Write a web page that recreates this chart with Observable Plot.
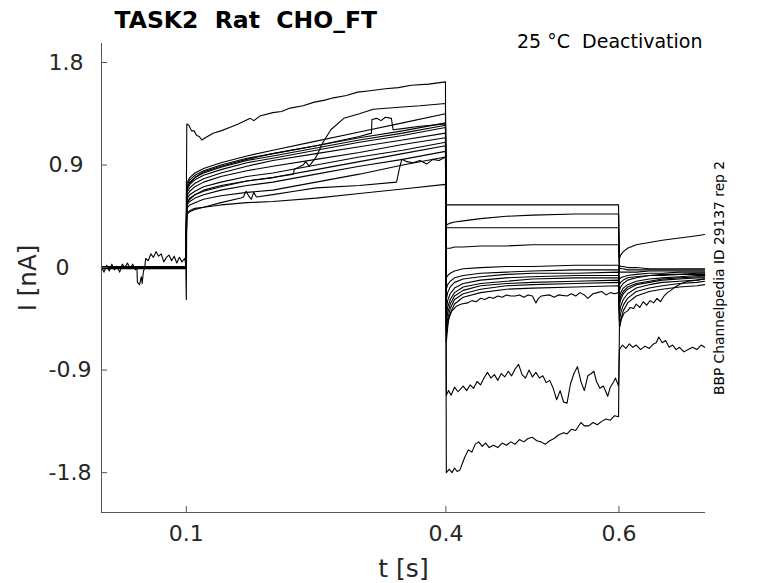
<!DOCTYPE html>
<html><head><meta charset="utf-8">
<script src="https://cdn.jsdelivr.net/npm/d3@7"></script>
<script src="https://cdn.jsdelivr.net/npm/@observablehq/plot@0.6"></script>
<style>body{margin:0;background:#fff;} #chart svg{display:block;}</style>
</head><body><div id="chart"></div>
<script>
// ---- text ----
const titleText = "TASK2 \u00a0Rat \u00a0CHO_FT";
const conditionText = "25 °C \u00a0Deactivation";
const sourceNote = "BBP Channelpedia ID 29137 rep 2";
const xLabel = "t [s]";
const yLabel = "I [nA]";

// ---- axes ----
const xDomain = [0.002, 0.7];
const yDomain = [-2.15, 1.967];
const xTicks = [0.1, 0.4, 0.6];
const xTickLabels = ["0.1", "0.4", "0.6"];
const yTicks = [1.8, 0.9, 0, -0.9, -1.8];
const yTickLabels = ["1.8", "0.9", "\u00a00", "-0.9", "-1.8"];

// ---- holding segment (t < 0.1) ----
const tBaseFlat = [0.002, 0.0995];
const baseLevels = [0, 0, 0.005, 0, -0.005, 0.01, 0, -0.01, 0.005, 0, -0.005, 0.01, 0, 0.005, -0.005];
const baseNoisyA = [[0.002,0.0],[0.005,-0.04],[0.008,0.02],[0.011,-0.03],[0.014,0.03],[0.017,-0.02],[0.02,0.01],[0.023,-0.04],[0.026,0.03],[0.029,0.0],[0.032,0.04],[0.035,-0.01],[0.038,0.03],[0.041,-0.02],[0.043,-0.01],[0.0435,-0.13],[0.046,-0.15],[0.048,-0.08],[0.049,-0.14],[0.0505,-0.03],[0.053,0.01],[0.058,-0.01],[0.065,0.01],[0.075,0.0],[0.085,0.01],[0.0995,0.0]];
const baseNoisyB = [[0.002,0.01],[0.02,0.0],[0.04,0.01],[0.052,0.0],[0.053,0.08],[0.056,0.06],[0.059,0.12],[0.062,0.09],[0.065,0.14],[0.068,0.1],[0.071,0.12],[0.074,0.05],[0.077,0.09],[0.08,0.11],[0.083,0.06],[0.086,0.1],[0.089,0.04],[0.092,0.09],[0.095,0.05],[0.098,0.08],[0.0995,0.03]];
const baseSpike = [[0.002,0.0],[0.0995,0.0],[0.1,-0.28]];

// ---- activation segment (0.1 – 0.4) ----
const tAct = [0.1006, 0.104, 0.11, 0.12, 0.14, 0.17, 0.2, 0.25, 0.3, 0.35, 0.3995];
const actTop = [[0.1006,1.26],[0.103,1.25],[0.106,1.2],[0.109,1.2],[0.112,1.16],[0.115,1.15],[0.118,1.12],[0.122,1.14],[0.131,1.18],[0.14,1.2],[0.15,1.23],[0.16,1.26],[0.174,1.31],[0.178,1.29],[0.185,1.33],[0.2,1.36],[0.21,1.37],[0.22,1.4],[0.235,1.42],[0.247,1.45],[0.26,1.47],[0.27,1.49],[0.285,1.51],[0.298,1.54],[0.31,1.55],[0.33,1.57],[0.345,1.58],[0.36,1.6],[0.38,1.61],[0.3995,1.63]];
const actJump = [[0.1006,0.56],[0.104,0.6],[0.11,0.64],[0.12,0.68],[0.14,0.72],[0.17,0.76],[0.2,0.79],[0.224,0.82],[0.2245,0.86],[0.235,0.9],[0.238,0.93],[0.242,0.89],[0.25,0.97],[0.258,1.1],[0.267,1.21],[0.282,1.31],[0.3,1.35],[0.316,1.39],[0.35,1.41],[0.37,1.42],[0.3995,1.44]];
const actRect = [[0.1006,0.7],[0.104,0.74],[0.11,0.79],[0.12,0.84],[0.14,0.89],[0.17,0.95],[0.2,1.0],[0.25,1.07],[0.3,1.15],[0.314,1.18],[0.3145,1.3],[0.32,1.31],[0.325,1.29],[0.33,1.32],[0.337,1.31],[0.339,1.21],[0.35,1.22],[0.37,1.24],[0.3995,1.26]];
const actBumpJump = [[0.1006,0.47],[0.104,0.49],[0.11,0.51],[0.12,0.53],[0.14,0.57],[0.163,0.61],[0.166,0.62],[0.169,0.67],[0.172,0.63],[0.175,0.6],[0.178,0.66],[0.181,0.62],[0.2,0.64],[0.225,0.67],[0.25,0.7],[0.3,0.72],[0.343,0.75],[0.346,0.86],[0.349,0.95],[0.355,0.93],[0.362,0.92],[0.37,0.94],[0.378,0.91],[0.385,0.95],[0.392,0.94],[0.3995,0.97]];
const actSmooth = [
  [0.74,0.79,0.83,0.87,0.92,0.98,1.03,1.11,1.19,1.27,1.35],
  [0.72,0.77,0.81,0.85,0.9,0.96,1.0,1.07,1.14,1.2,1.27],
  [0.7,0.75,0.79,0.83,0.88,0.94,0.98,1.05,1.12,1.18,1.25],
  [0.68,0.73,0.77,0.81,0.86,0.92,0.96,1.03,1.1,1.16,1.23],
  [0.66,0.7,0.74,0.78,0.83,0.89,0.94,1.0,1.06,1.12,1.18],
  [0.63,0.67,0.71,0.75,0.8,0.85,0.89,0.95,1.01,1.08,1.14],
  [0.6,0.64,0.67,0.71,0.75,0.8,0.83,0.9,0.97,1.03,1.1],
  [0.57,0.61,0.64,0.67,0.71,0.76,0.79,0.86,0.93,1.0,1.07],
  [0.55,0.58,0.61,0.64,0.68,0.72,0.75,0.82,0.89,0.95,1.02],
  [0.52,0.55,0.57,0.6,0.63,0.66,0.68,0.75,0.82,0.9,0.97],
  [0.48,0.5,0.52,0.53,0.55,0.57,0.58,0.61,0.65,0.69,0.73]
];

// ---- deactivation segment (0.4 – 0.6) ----
const tDeact = [0.4005, 0.402, 0.405, 0.41, 0.42, 0.44, 0.47, 0.5, 0.55, 0.5995];
const deactSmooth = [
  [0.55,0.55,0.55,0.55,0.55,0.55,0.55,0.55,0.55,0.55],
  [0.37,0.38,0.39,0.4,0.41,0.43,0.45,0.46,0.47,0.47],
  [0.35,0.35,0.35,0.35,0.35,0.35,0.35,0.35,0.35,0.35],
  [0.17,0.17,0.17,0.18,0.18,0.19,0.19,0.2,0.2,0.2],
  [-0.09,-0.07,-0.05,-0.03,-0.01,0.0,0.01,0.01,0.02,0.02],
  [-0.19,-0.15,-0.12,-0.09,-0.07,-0.05,-0.04,-0.03,-0.02,-0.02],
  [-0.28,-0.22,-0.17,-0.13,-0.1,-0.08,-0.06,-0.05,-0.05,-0.04],
  [-0.37,-0.29,-0.23,-0.18,-0.14,-0.11,-0.09,-0.08,-0.07,-0.07],
  [-0.43,-0.35,-0.28,-0.22,-0.17,-0.14,-0.12,-0.1,-0.09,-0.09],
  [-0.48,-0.4,-0.32,-0.25,-0.2,-0.16,-0.14,-0.13,-0.12,-0.11],
  [-0.54,-0.45,-0.36,-0.28,-0.23,-0.19,-0.16,-0.15,-0.14,-0.13],
  [-0.6,-0.5,-0.4,-0.32,-0.26,-0.22,-0.19,-0.18,-0.17,-0.16]
];
const deactNoisyHigh = [[0.4005,-0.65],[0.403,-0.45],[0.407,-0.38],[0.412,-0.34],[0.418,-0.32],[0.425,-0.31],[0.43,-0.29],[0.435,-0.3],[0.44,-0.27],[0.445,-0.28],[0.45,-0.26],[0.455,-0.27],[0.46,-0.25],[0.465,-0.26],[0.47,-0.24],[0.475,-0.25],[0.48,-0.25],[0.485,-0.24],[0.49,-0.26],[0.495,-0.24],[0.5,-0.25],[0.504,-0.31],[0.507,-0.27],[0.51,-0.25],[0.52,-0.24],[0.525,-0.26],[0.53,-0.24],[0.54,-0.25],[0.545,-0.23],[0.55,-0.25],[0.555,-0.22],[0.56,-0.24],[0.564,-0.27],[0.57,-0.23],[0.575,-0.22],[0.58,-0.21],[0.585,-0.24],[0.59,-0.22],[0.595,-0.23],[0.5995,-0.22]];
const deactNoisyMid = [[0.4005,-1.12],[0.403,-1.08],[0.406,-1.12],[0.41,-1.05],[0.414,-1.09],[0.42,-1.04],[0.424,-1.08],[0.428,-1.03],[0.432,-1.06],[0.436,-1.0],[0.44,-1.03],[0.444,-0.97],[0.448,-0.92],[0.452,-0.97],[0.456,-0.94],[0.46,-0.99],[0.464,-0.93],[0.468,-0.96],[0.472,-0.91],[0.476,-0.95],[0.48,-0.89],[0.484,-0.85],[0.488,-0.94],[0.492,-0.97],[0.496,-0.9],[0.5,-0.96],[0.504,-0.92],[0.508,-0.97],[0.512,-0.95],[0.516,-1.01],[0.52,-0.99],[0.524,-1.06],[0.528,-1.16],[0.532,-1.08],[0.536,-1.18],[0.54,-1.19],[0.544,-1.02],[0.548,-0.93],[0.552,-0.87],[0.556,-1.0],[0.56,-1.08],[0.564,-0.95],[0.568,-0.93],[0.571,-0.91],[0.574,-1.0],[0.578,-1.06],[0.582,-1.04],[0.587,-1.13],[0.59,-1.05],[0.594,-1.0],[0.596,-0.97],[0.5995,-1.04]];
const deactNoisyLow = [[0.4005,-1.8],[0.404,-1.77],[0.407,-1.8],[0.41,-1.76],[0.413,-1.79],[0.416,-1.78],[0.419,-1.72],[0.422,-1.66],[0.426,-1.6],[0.43,-1.62],[0.434,-1.55],[0.438,-1.53],[0.442,-1.57],[0.446,-1.54],[0.45,-1.58],[0.455,-1.56],[0.46,-1.58],[0.465,-1.54],[0.47,-1.56],[0.475,-1.53],[0.48,-1.55],[0.485,-1.51],[0.49,-1.53],[0.495,-1.5],[0.5,-1.49],[0.505,-1.52],[0.51,-1.53],[0.515,-1.55],[0.52,-1.52],[0.525,-1.5],[0.53,-1.47],[0.536,-1.45],[0.54,-1.46],[0.545,-1.42],[0.55,-1.43],[0.556,-1.36],[0.56,-1.39],[0.565,-1.39],[0.57,-1.36],[0.575,-1.38],[0.58,-1.35],[0.585,-1.33],[0.59,-1.34],[0.595,-1.3],[0.5995,-1.31]];

// ---- tail segment (0.6 – 0.7) ----
const tTail = [0.6005, 0.602, 0.605, 0.61, 0.62, 0.635, 0.65, 0.67, 0.69, 0.699];
const tailSmooth = [
  [-0.54,-0.46,-0.38,-0.31,-0.25,-0.21,-0.19,-0.17,-0.16,-0.15],
  [0.08,0.11,0.14,0.17,0.2,0.22,0.24,0.26,0.28,0.29],
  [0.0,-0.01,-0.01,-0.02,-0.02,-0.02,-0.02,-0.02,-0.02,-0.02],
  [-0.04,-0.04,-0.04,-0.04,-0.04,-0.03,-0.03,-0.03,-0.03,-0.03],
  [0.02,0.01,0.01,0.0,0.0,-0.01,-0.01,-0.01,-0.01,-0.01],
  [-0.1,-0.09,-0.08,-0.07,-0.06,-0.05,-0.05,-0.04,-0.04,-0.04],
  [-0.2,-0.17,-0.14,-0.11,-0.09,-0.07,-0.06,-0.06,-0.05,-0.05],
  [-0.15,-0.13,-0.11,-0.09,-0.08,-0.07,-0.07,-0.06,-0.06,-0.06],
  [-0.26,-0.22,-0.18,-0.15,-0.12,-0.1,-0.09,-0.08,-0.07,-0.07],
  [-0.33,-0.28,-0.23,-0.19,-0.15,-0.13,-0.11,-0.1,-0.09,-0.09],
  [-0.3,-0.25,-0.21,-0.17,-0.14,-0.12,-0.1,-0.09,-0.08,-0.08],
  [-0.4,-0.34,-0.28,-0.23,-0.18,-0.15,-0.13,-0.12,-0.11,-0.1],
  [-0.47,-0.4,-0.33,-0.27,-0.21,-0.18,-0.16,-0.14,-0.13,-0.12]
];
const tailNoisyMid = [[0.6005,-0.52],[0.603,-0.45],[0.606,-0.4],[0.61,-0.38],[0.613,-0.35],[0.617,-0.36],[0.62,-0.32],[0.624,-0.35],[0.628,-0.3],[0.632,-0.33],[0.636,-0.29],[0.64,-0.31],[0.644,-0.27],[0.648,-0.3],[0.652,-0.25],[0.656,-0.22],[0.66,-0.2],[0.665,-0.17],[0.672,-0.14],[0.68,-0.12],[0.69,-0.11],[0.699,-0.1]];
const tailNoisyLow = [[0.6005,-0.72],[0.604,-0.68],[0.608,-0.71],[0.612,-0.67],[0.616,-0.7],[0.62,-0.68],[0.625,-0.72],[0.63,-0.69],[0.635,-0.71],[0.64,-0.67],[0.643,-0.66],[0.646,-0.61],[0.65,-0.66],[0.654,-0.64],[0.658,-0.7],[0.662,-0.68],[0.666,-0.72],[0.67,-0.7],[0.675,-0.74],[0.68,-0.72],[0.685,-0.7],[0.69,-0.72],[0.695,-0.68],[0.699,-0.7]];

// ---- assemble traces ----
const pairs = (grid, vals) => vals.map((v, j) => [grid[j], v]);
const baseSegs = baseLevels.map(l => pairs(tBaseFlat, [l, l]));
baseSegs[0] = baseNoisyA; baseSegs[1] = baseSpike; baseSegs[3] = baseNoisyB;
const actSegs = [actTop, actJump, actRect, actBumpJump, ...actSmooth.map(v => pairs(tAct, v))];
const deactSegs = [deactNoisyMid, deactNoisyLow, pairs(tDeact, deactSmooth[0]), deactNoisyHigh,
  ...deactSmooth.slice(1).map(v => pairs(tDeact, v))];
const tailSegs = [tailNoisyLow, pairs(tTail, tailSmooth[0]), pairs(tTail, tailSmooth[1]), tailNoisyMid,
  ...tailSmooth.slice(2).map(v => pairs(tTail, v))];
const rows = [];
for (let i = 0; i < actSegs.length; i++) {
  for (const [t, I] of [...baseSegs[i], ...actSegs[i], ...deactSegs[i], ...tailSegs[i]]) rows.push({trace: i, t, I});
}

const axisColor = "#555";
const textColor = "#262626";
const chart = Plot.plot({
  width: 778, height: 583,
  marginLeft: 101, marginRight: 73, marginTop: 43, marginBottom: 71,
  style: {fontFamily: "DejaVu Sans", background: "white", color: textColor},
  x: {domain: xDomain},
  y: {domain: yDomain},
  marks: [
    Plot.line(rows, {x: "t", y: "I", z: "trace", stroke: "black", strokeWidth: 1.1}),
    Plot.ruleX([xDomain[0]], {stroke: axisColor}),
    Plot.ruleY([yDomain[0]], {stroke: axisColor}),
    Plot.axisY(yTicks, {tickSize: 6, dx: 6, stroke: axisColor, tickFormat: () => "", label: null}),
    Plot.axisX(xTicks, {tickSize: 6, dy: -6, stroke: axisColor, tickFormat: () => "", label: null}),
    Plot.axisY(yTicks, {tickSize: 0, tickPadding: 53, textAnchor: "start", fontSize: 22, fill: textColor,
      tickFormat: d => yTickLabels[yTicks.indexOf(d)], label: null}),
    Plot.axisX(xTicks, {tickSize: 0, tickPadding: 13, fontSize: 22, fill: textColor,
      tickFormat: d => xTickLabels[xTicks.indexOf(d)], label: null}),
    Plot.text([yLabel], {text: d => d, frameAnchor: "left", textAnchor: "middle", lineAnchor: "middle", rotate: -90, dx: -73, fontSize: 24.5, fill: textColor}),
    Plot.text([xLabel], {text: d => d, frameAnchor: "bottom", textAnchor: "middle", lineAnchor: "middle", dy: 56, fontSize: 25, fill: textColor}),
    Plot.text([titleText], {text: d => d, frameAnchor: "top-left", textAnchor: "start", lineAnchor: "middle", dx: 13, dy: -23.5, fontSize: 23.5, fontWeight: "bold", fill: "black"}),
    Plot.text([conditionText], {text: d => d, frameAnchor: "top-right", textAnchor: "end", lineAnchor: "middle", dx: -3, dy: -2, fontSize: 19, fill: "black"}),
    Plot.text([sourceNote], {text: d => d, frameAnchor: "right", textAnchor: "middle", lineAnchor: "middle", rotate: -90, dx: 14.5, fontSize: 13.8, fill: "black"})
  ]
});
document.getElementById("chart").appendChild(chart);
</script>
</body></html>
